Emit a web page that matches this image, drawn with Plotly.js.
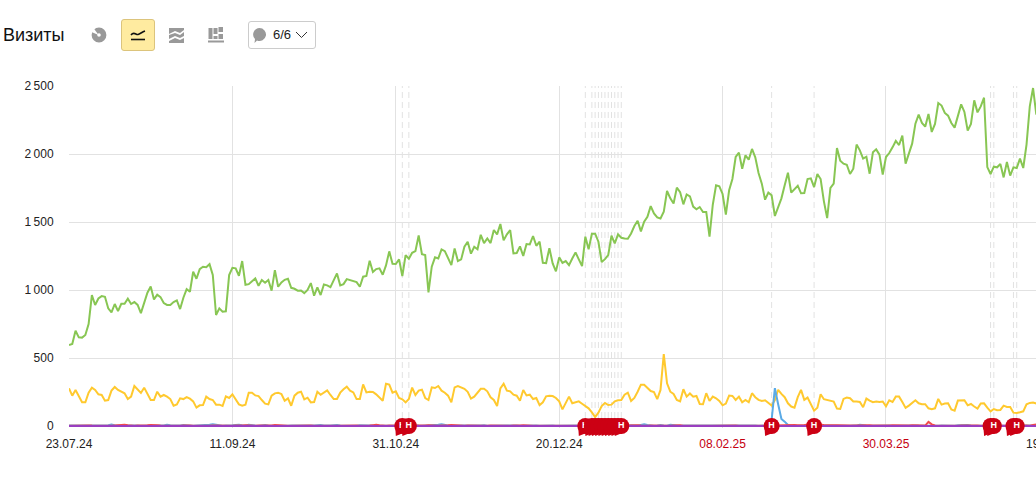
<!DOCTYPE html>
<html>
<head>
<meta charset="utf-8">
<script src="https://cdn.plot.ly/plotly-3.0.1.min.js"></script>
<style>
html,body{margin:0;padding:0;width:1036px;height:484px;overflow:hidden;background:#fff;font-family:"Liberation Sans",Arial,sans-serif}
#chart{position:absolute;left:0;top:0;width:1100px;height:484px}
#title{position:absolute;left:3px;top:23px;font-size:18px;line-height:24px;color:#111}
.ic{position:absolute}
#active{position:absolute;left:121px;top:19px;width:32px;height:30px;background:#ffeba0;border:1px solid #dcc47c;border-radius:3px}
#drop{position:absolute;left:248px;top:21px;width:66px;height:26px;border:1px solid #ccc;border-radius:3px}
#dropt{position:absolute;left:273px;top:26px;font-size:13px;line-height:17px;color:#222}
</style>
</head>
<body>
<div id="chart"></div>
<div id="title">Визиты</div>
<svg class="ic" style="left:91px;top:27px" width="16" height="16" viewBox="0 0 16 16"><circle cx="8" cy="8" r="4.6" fill="none" stroke="#999" stroke-width="5.6"/><path d="M7.5 8L2.5 1L0.5 5Z" fill="#fff"/></svg>
<div id="active"></div>
<svg class="ic" style="left:130px;top:29px" width="16" height="12" viewBox="0 0 16 12"><path d="M1 6C4 2 6 6 8 5.5S12 3 15 2" fill="none" stroke="#111" stroke-width="1.6"/><path d="M1 10.5H15" stroke="#111" stroke-width="1.6"/></svg>
<svg class="ic" style="left:169px;top:27px" width="16" height="16" viewBox="0 0 16 16"><path d="M0 1H15V3L11 6L6 4L0 7Z M0 8L6 6L11 8L15 5V9L11 11L6 9L0 12Z M0 14L6 11L11 13L15 11V16H0Z" fill="#999"/></svg>
<svg class="ic" style="left:208px;top:27px" width="16" height="16" viewBox="0 0 16 16"><path d="M0.5 1H4.5V12H0.5Z M5.5 1H9.5V7H5.5Z M5.5 9H9.5V12H5.5Z M10.5 0H15V5H10.5Z M10.5 7H15V12H10.5Z M0 13.5H16V15.5H0Z" fill="#999"/></svg>
<div id="drop"></div>
<svg class="ic" style="left:252px;top:27px" width="15" height="17" viewBox="0 0 15 17"><path d="M7.5 1A6.5 6.5 0 1 1 5 13.5L2.5 16L3 12A6.5 6.5 0 0 1 7.5 1Z" fill="#999"/></svg>
<div id="dropt">6/6</div>
<svg class="ic" style="left:295px;top:31px" width="13" height="8" viewBox="0 0 13 8"><path d="M1 1L6.5 6.5L12 1" fill="none" stroke="#333" stroke-width="1"/></svg>
<script>
var startDate = "2024-07-23";
var greenValues = [
595,603,700,652,650,669,750,963,890,938,
955,950,865,835,897,845,899,899,936,897,
911,890,830,897,980,1026,931,965,948,904,
890,890,911,923,860,943,1007,987,1134,1083,
1154,1171,1168,1190,1110,816,865,840,843,1110,
1163,1159,1105,1213,1038,1043,1065,1085,1031,1073,
1053,1073,995,1146,1024,1056,1075,1083,1016,1009,
995,997,977,1000,1051,958,1019,963,1041,1034,
1021,1075,1122,1034,1043,1080,1073,
1066,1058,1024,1098,1103,1215,1132,1154,1159,1112,
1181,1284,1193,1191,1225,1103,1257,1230,1274,1286,
1401,1264,1257,982,1171,1240,1232,1299,1286,1240,
1183,1306,1213,1225,1318,1355,1267,1318,1299,1406,
1345,1379,1345,1441,1409,1485,1365,1409,1441,1269,
1272,1321,1250,1338,1335,1397,1325,1355,1200,1198,
1308,1196,1137,1240,1200,1213,1183,1232,1276,1225,
1176,1392,1299,1414,1414,1355,1205,1227,1257,1399,
1343,1409,1384,1379,1377,1416,1470,1509,1431,1502,
1539,1617,1563,1534,1526,1575,
1728,1674,1636,1753,1720,1630,1703,
1689,1613,1593,1610,1574,1574,1392,1627,1770,1762,
1706,1554,1733,1816,1978,2010,1892,1990,1958,2037,
1976,1860,1782,1664,1716,1696,1544,1608,1674,1770,
1863,1716,1738,1767,1711,1713,1816,1821,1757,1853,
1816,1652,1529,1750,1782,2044,1951,1929,1921,1853,
1892,2069,2027,1966,1980,1855,2012,2034,1995,1848,
1978,2007,2049,2096,2066,2135,1929,2002,2076,2223,
2289,2228,2201,2294,2162,2221,2375,2356,2302,2282,
2228,2194,2289,2365,2309,2172,2221,2395,2306,2350,
2414,1904,1853,1907,1902,1926,1828,1941,1841,1902,
1897,1966,1897,2069,2350,2485,2290
];
var yellowValues = [
277,223,265,220,174,174,245,282,265,233,
228,186,191,260,287,265,252,240,198,216,
294,270,243,282,233,191,191,252,216,228,
216,198,149,159,203,198,213,201,181,135,
152,154,216,198,191,157,157,147,218,206,
233,191,159,149,157,245,245,225,220,191,
164,159,223,240,245,235,186,203,149,223,
245,252,196,208,174,176,252,230,247,262,
228,198,198,245,270,289,260,
247,198,198,306,247,252,250,233,208,186,
311,304,245,255,206,196,174,198,282,228,
260,267,206,191,284,279,294,260,245,223,
174,284,294,284,274,252,201,216,247,274,
274,255,211,191,147,277,311,260,255,230,
223,186,265,225,230,198,206,154,174,218,
223,220,206,181,122,167,216,167,176,181,
164,149,130,100,66,98,147,169,154,157,
181,189,191,230,245,184,206,252,304,304,
282,257,250,198,265,529,
314,252,235,191,181,270,216,
239,216,221,162,160,241,184,216,204,184,
152,165,224,221,192,216,175,192,175,241,
212,192,184,189,167,150,190,266,236,212,
167,143,135,212,266,192,209,155,113,135,
234,197,192,187,180,128,125,199,209,204,
180,180,177,138,202,187,175,180,177,180,
145,189,177,216,216,177,133,150,167,189,
167,160,160,130,123,130,199,157,165,167,
121,113,187,189,189,152,162,143,128,165,
167,135,108,125,116,118,150,140,140,98,
96,101,108,160,170,172,165
];
var blueValues = [
4,3,4,3,2,3,4,3,2,3,
4,3,5,10,6,3,2,3,4,3,
2,3,2,3,5,4,3,8,4,3,
9,5,3,2,4,8,5,3,2,3,
4,3,5,9,12,7,3,2,4,3,
5,8,10,5,3,9,4,3,2,4,
8,4,3,2,3,4,3,2,4,3,
6,3,4,2,3,4,6,8,3,2,
4,6,8,3,2,3,4,3,2,5,
3,2,4,3,2,3,5,4,3,2,
4,3,3,2,3,8,4,3,2,3,
4,3,6,9,12,6,3,2,3,8,
4,3,2,3,5,3,4,6,2,3,
4,3,2,3,4,3,5,4,2,3,
3,2,4,3,2,3,5,4,3,2,
3,4,2,3,2,3,4,3,2,3,
4,3,2,3,2,4,3,2,3,4,
2,3,6,4,3,8,12,7,3,2,
4,8,3,2,9,5,3,2,3,4,
3,2,3,4,3,2,4,3,2,3,
3,2,4,3,2,3,3,4,2,3,
3,2,3,2,4,44,278,160,52,32,
7,3,2,3,2,3,2,3,2,3,
3,2,3,4,3,2,3,2,3,2,
4,3,9,4,3,2,3,2,3,2,
3,4,2,3,2,3,3,2,3,4,
3,2,3,2,3,3,2,3,2,3,
3,2,5,7,8,7,3,2,3,2,
3,2,3,2,3,3,2,3,2,3,
3,2,3,3,2,3,4
];
var redValues = [
2,3,2,1,3,2,4,3,2,1,
2,3,2,1,3,6,8,9,6,3,
2,3,2,1,5,7,9,6,3,2,
1,2,3,2,1,3,5,4,2,1,
2,3,1,2,3,2,1,2,3,2,
1,3,2,4,6,3,2,1,3,2,
1,2,4,8,5,2,3,1,2,3,
2,1,3,2,3,1,2,3,1,2,
3,2,1,2,3,2,4,5,3,2,
1,2,3,6,9,5,2,1,3,2,
1,2,3,2,1,3,2,1,2,3,
5,3,1,2,3,2,5,8,6,2,
1,2,3,2,1,3,2,1,2,3,
2,1,2,3,2,1,3,2,4,6,
3,2,1,2,3,1,2,3,2,1,
2,3,1,2,3,2,1,2,3,1,
2,3,2,1,3,2,1,2,3,2,
1,3,2,4,5,3,1,2,3,2,
1,2,3,2,1,4,6,5,2,3,
1,2,3,2,1,3,2,1,2,3,
2,1,3,2,3,1,2,3,2,1,
3,2,1,2,3,2,3,2,3,6,
9,10,8,6,5,7,9,10,8,10,
9,7,6,8,9,6,5,4,5,3,
4,5,3,4,3,5,4,3,6,5,
4,3,5,4,3,2,4,3,5,4,
3,4,3,30,12,4,3,2,3,5,
4,3,2,3,4,2,3,4,3,2,
3,4,2,3,4,3,2,3,4,3,
2,3,4,3,2,8,12
];
var purpleValues = [
0,0,0,0,0,0,0,0,0,0,0,0,0,0,0,0,0,0,0,0,0,0,0,0,0,0,0,0,0,0,
0,0,0,0,0,0,0,0,0,0,0,0,0,0,0,0,0,0,0,0,0,0,0,0,0,0,0,0,0,0,
0,0,0,0,0,0,0,0,0,0,0,0,0,0,0,0,0,0,0,0,0,0,0,0,0,0,0,0,0,0,
0,0,0,0,0,0,0,0,0,0,0,0,0,0,0,0,0,0,0,0,0,0,0,0,0,0,0,0,0,0,
0,0,0,0,0,0,0,0,0,0,0,0,0,0,0,0,0,0,0,0,0,0,0,0,0,0,0,0,0,0,
0,0,0,0,0,0,0,0,0,0,0,0,0,0,0,0,0,0,0,0,0,0,0,0,0,0,0,0,0,0,
0,0,0,0,0,0,0,0,0,0,0,0,0,0,0,0,0,0,0,0,0,0,0,0,0,0,0,0,0,0,
0,0,0,0,0,0,0,0,0,0,0,0,0,0,0,0,0,0,0,0,0,0,0,0,0,0,0,0,0,0,
0,0,0,0,0,0,0,0,0,0,0,0,0,0,0,0,0,0,0,0,0,0,0,0,0,0,0,0,0,0,
0,0,0,0,0,0,0,0,0,0,0,0,0,0,0,0,0,0,0,0,0,0,0,0,0,0,0,0,0,0,
0,0,0,0,0,0,0
];
var xTickDates = ["2024-07-23","2024-09-11","2024-10-31","2024-12-20","2025-02-08","2025-03-30","2025-05-19"];
var xTickLabels = ["23.07.24","11.09.24","31.10.24","20.12.24","<span style='color:#c5000f'>08.02.25</span>","<span style='color:#c5000f'>30.03.25</span>","19.05.25"];
var yTickValues = [0,500,1000,1500,2000,2500];
var yTickLabels = ["0","500","1\u2009000","1\u2009500","2\u2009000","2\u2009500"];
var holidayDates = ["2024-11-02","2024-11-04","2024-12-28","2024-12-30","2024-12-31","2025-01-01","2025-01-02","2025-01-03","2025-01-04","2025-01-05","2025-01-06","2025-01-07","2025-01-08","2025-02-23","2025-03-08","2025-05-01","2025-05-02","2025-05-08","2025-05-09"];
var holidayLabels = ["Н","Н","Н","","","","","","","","","","Н","Н","Н","","Н","","Н"];

function dayString(i){
  var d = new Date(Date.parse(startDate + "T00:00:00Z") + i * 86400000);
  return d.toISOString().slice(0,10);
}
var dates = greenValues.map(function(_,i){return dayString(i);});
function line(y,color){
  return {type:"scatter",mode:"lines",x:dates.slice(0,y.length),y:y,line:{color:color,width:2},hoverinfo:"skip",showlegend:false};
}
var traces = [line(greenValues,"#88c653"),line(yellowValues,"#ffc92e"),line(blueValues,"#5aaae6"),line(redValues,"#f24b4b"),line(purpleValues,"#9a3fc0")];
var shapes = [];
holidayDates.forEach(function(d,i){
  shapes.push({type:"line",xref:"x",yref:"paper",x0:d,x1:d,y0:0,y1:1,layer:"below",line:{color:"#e2e2e2",width:1,dash:"6px,4px"}});
  shapes.push({type:"path",xref:"x",yref:"paper",xsizemode:"pixel",ysizemode:"pixel",xanchor:d,yanchor:0,path:"M -7 -1 L -6.5 -8 L 1 -5 Z",fillcolor:"#cc0014",line:{width:0},layer:"above"});
  traces.push({type:"scatter",mode:"markers+text",x:[d],y:[0],text:[holidayLabels[i]],textposition:"middle center",
    textfont:{family:"Liberation Sans, Arial, sans-serif",size:9,color:"#fff",weight:700},
    marker:{color:"#cc0014",size:16,line:{width:0}},cliponaxis:false,hoverinfo:"skip",showlegend:false});
});
var layout = {
  width:1100,height:484,paper_bgcolor:"#fff",plot_bgcolor:"#fff",showlegend:false,
  margin:{l:69,r:31,t:86,b:56},
  font:{family:"Liberation Sans, Arial, sans-serif",size:12,color:"#222"},
  xaxis:{type:"date",range:["2024-07-23","2025-05-25"],tickmode:"array",tickvals:xTickDates,ticktext:xTickLabels,
    showgrid:true,gridcolor:"#e2e2e2",gridwidth:1,zeroline:false,showline:false,ticks:"outside",ticklen:5,tickcolor:"rgba(0,0,0,0)",tickangle:0},
  yaxis:{range:[-14.7,2500],tickmode:"array",tickvals:yTickValues,ticktext:yTickLabels,
    showgrid:true,gridcolor:"#e2e2e2",gridwidth:1,zeroline:false,showline:false,ticks:"outside",ticklen:12,tickcolor:"rgba(0,0,0,0)"},
  shapes:shapes
};
Plotly.newPlot("chart",traces,layout,{displayModeBar:false,staticPlot:true});
</script>
</body>
</html>
